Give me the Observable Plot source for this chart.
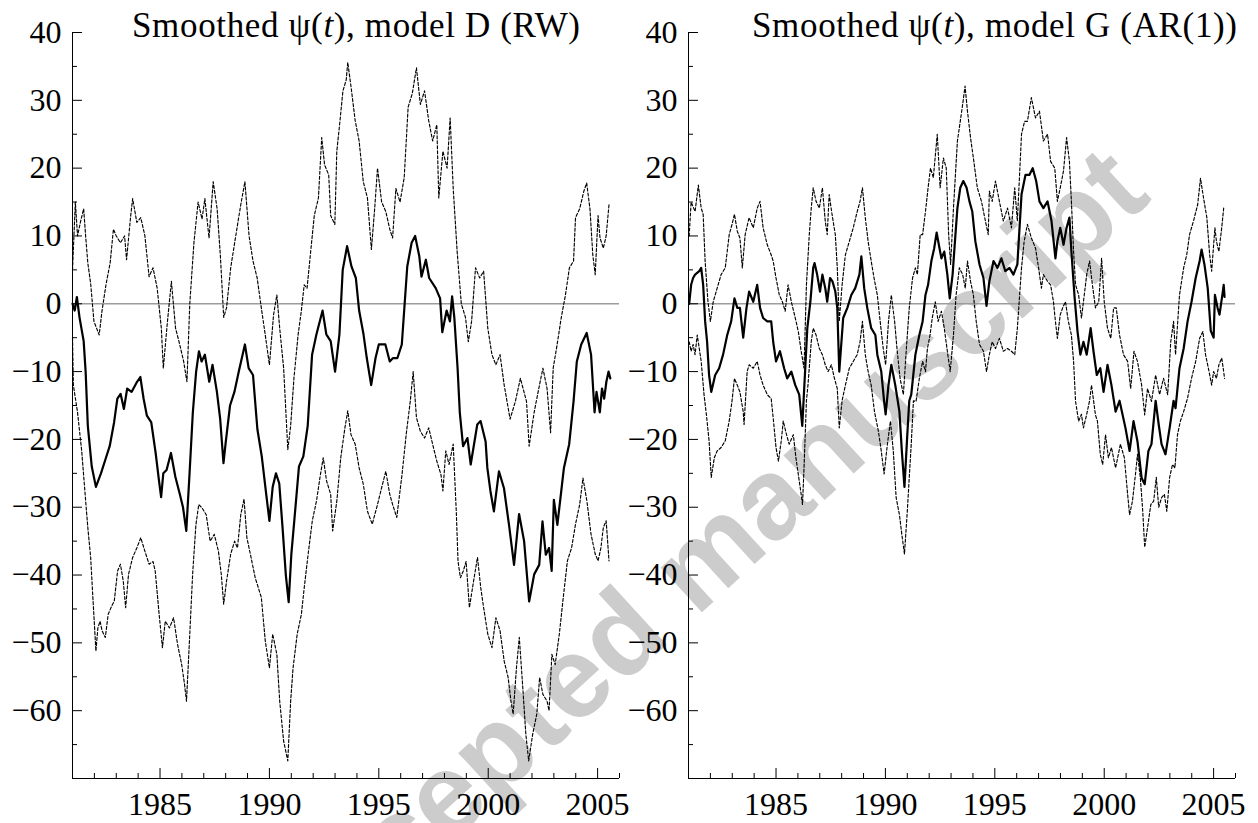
<!DOCTYPE html>
<html><head><meta charset="utf-8">
<script src="https://cdn.jsdelivr.net/npm/d3@7"></script>
<script src="https://cdn.jsdelivr.net/npm/@observablehq/plot@0.6"></script>
<style>
html,body{margin:0;padding:0;background:#fff;}
#wrap{position:relative;width:1258px;height:823px;overflow:hidden;background:#fff;}
#wrap > svg{position:absolute;top:0;}
#wrap svg text, #wrap svg tspan{font-family:"Liberation Serif","Times New Roman",Times,serif !important;}
#wrap svg text.wm{font-family:"Liberation Sans",Arial,Helvetica,sans-serif !important;}
</style></head><body>
<div id="wrap"></div>
<script>
// ---- tick values ----
const majorX = [1985, 1990, 1995, 2000, 2005];
const minorX = [1982,1983,1984,1986,1987,1988,1989,1991,1992,1993,1994,1996,1997,1998,1999,2001,2002,2003,2004,2006];
const majorY = [-60,-50,-40,-30,-20,-10,0,10,20,30,40];
const minorY = [-65,-55,-45,-35,-25,-15,-5,5,15,25,35];

const titleD = ["Smoothed \u03c8(", "t", "), model D (RW)"];
const titleG = ["Smoothed \u03c8(", "t", "), model G (AR(1))"];
const watermark = "Accepted manuscript";

// ---- model D (RW): smoothed mean, upper and lower bands [year, value] ----
const D_mean = [[1981.0,0],[1981.1,-1],[1981.2,1],[1981.32,-2],[1981.51,-5.5],[1981.6,-10],[1981.7,-18],[1981.88,-24],[1982.07,-27],[1982.3,-25],[1982.5,-23],[1982.7,-21],[1982.9,-17.5],[1983.05,-14],[1983.2,-13.3],[1983.35,-15.5],[1983.5,-12.5],[1983.7,-13],[1983.95,-11.5],[1984.1,-10.8],[1984.25,-14],[1984.4,-16.5],[1984.6,-17.5],[1984.8,-22],[1984.95,-26],[1985.05,-28.5],[1985.15,-25],[1985.3,-24.5],[1985.5,-22],[1985.7,-25.5],[1985.9,-28],[1986.05,-30],[1986.2,-33.5],[1986.35,-25],[1986.5,-16],[1986.65,-10],[1986.78,-7],[1986.9,-8.5],[1987.05,-7.5],[1987.25,-11.5],[1987.4,-9],[1987.6,-13],[1987.75,-17],[1987.9,-23.5],[1988.0,-20.5],[1988.2,-15],[1988.4,-13],[1988.6,-10],[1988.88,-6],[1989.05,-9.5],[1989.25,-10.5],[1989.45,-18.5],[1989.65,-22.5],[1989.85,-28],[1990.0,-32],[1990.15,-27],[1990.3,-25],[1990.45,-26.5],[1990.6,-33],[1990.75,-40],[1990.88,-44],[1991.0,-37],[1991.15,-31.5],[1991.35,-24],[1991.55,-22.5],[1991.75,-18],[1991.95,-7.5],[1992.15,-4.5],[1992.43,-1],[1992.6,-4.5],[1992.8,-5.5],[1993.0,-10],[1993.2,-4.5],[1993.35,5],[1993.55,8.5],[1993.75,5.5],[1993.95,3.8],[1994.1,-1],[1994.3,-4.5],[1994.45,-8],[1994.65,-12],[1994.85,-8],[1995.0,-6],[1995.3,-6],[1995.5,-8.5],[1995.65,-8],[1995.85,-8],[1996.05,-6],[1996.3,5.5],[1996.5,9],[1996.66,10],[1996.85,7],[1996.95,4],[1997.15,6.5],[1997.3,3.8],[1997.6,2.3],[1997.8,0.8],[1997.9,-4.2],[1998.1,-1],[1998.25,-2.6],[1998.35,1.1],[1998.45,-2],[1998.6,-9.5],[1998.7,-16],[1998.85,-21],[1999.05,-19.8],[1999.2,-23.7],[1999.5,-17.8],[1999.65,-17.3],[1999.88,-20.3],[1999.96,-24.2],[2000.1,-27.6],[2000.26,-30.6],[2000.49,-24.7],[2000.72,-27.2],[2000.95,-32.6],[2001.18,-38.5],[2001.41,-31],[2001.64,-35],[2001.87,-43.9],[2002.1,-39.9],[2002.33,-38.5],[2002.48,-32.1],[2002.63,-37],[2002.78,-36],[2002.9,-39.4],[2003.0,-28.9],[2003.16,-32.6],[2003.46,-24.2],[2003.7,-20.7],[2003.9,-14.4],[2004.05,-8.5],[2004.25,-6],[2004.5,-4.3],[2004.7,-7.5],[2004.86,-16],[2004.95,-13],[2005.1,-16],[2005.2,-12.5],[2005.3,-14],[2005.4,-11.5],[2005.5,-10],[2005.58,-11]];

const D_up = [[1981.0,5],[1981.13,15],[1981.23,10],[1981.36,12],[1981.51,14],[1981.6,10],[1981.7,6],[1981.83,3],[1981.98,-2.6],[1982.22,-4.6],[1982.35,-1],[1982.54,3],[1982.72,6],[1982.87,11],[1983.0,10],[1983.19,9],[1983.38,10],[1983.47,6.5],[1983.66,13],[1983.75,15.5],[1983.94,12],[1984.12,12.7],[1984.31,10],[1984.5,4],[1984.68,5.3],[1984.87,2.3],[1985.06,-3.6],[1985.15,-9.5],[1985.34,-2.6],[1985.52,3.3],[1985.71,-3.6],[1985.9,-6],[1986.08,-8.5],[1986.23,-11.5],[1986.36,0],[1986.55,9],[1986.74,15],[1986.92,12.5],[1987.05,15.5],[1987.24,9.7],[1987.43,18],[1987.61,14],[1987.76,7],[1987.91,-2],[1988.04,-0.6],[1988.23,5.3],[1988.51,11],[1988.69,14.6],[1988.88,18],[1989.07,10],[1989.25,6.3],[1989.44,3.8],[1989.63,-0.6],[1989.81,-4.6],[1990.0,-9],[1990.19,-1.6],[1990.34,1.3],[1990.47,-3.6],[1990.65,-9.5],[1990.84,-21.5],[1990.97,-18],[1991.12,-11],[1991.31,-4.6],[1991.46,-1],[1991.59,2.8],[1991.72,2.3],[1991.87,7.2],[1992.05,13],[1992.24,15.6],[1992.39,24.5],[1992.52,20.5],[1992.71,19],[1992.8,13],[1992.99,11.7],[1993.08,22.5],[1993.21,26.5],[1993.36,31.4],[1993.51,33],[1993.58,35.6],[1993.73,32],[1993.92,27],[1994.1,24],[1994.29,18],[1994.48,15.6],[1994.66,8],[1994.81,14],[1994.94,20],[1995.13,15],[1995.32,13.6],[1995.5,11],[1995.63,9.7],[1995.78,17],[1995.97,15],[1996.16,18.6],[1996.34,29],[1996.53,31],[1996.72,34.8],[1996.9,29.4],[1997.09,31.4],[1997.28,27],[1997.46,24],[1997.65,26.4],[1997.74,15.6],[1997.93,22.5],[1998.12,20],[1998.26,27.4],[1998.4,17],[1998.58,7.7],[1998.77,0],[1998.96,-2],[1999.09,-5.6],[1999.24,-2.6],[1999.42,5.3],[1999.61,3.8],[1999.79,4.8],[1999.98,-3.6],[2000.17,-7.5],[2000.35,-9],[2000.54,-7.5],[2000.73,-12],[2001.0,-17],[2001.24,-14.4],[2001.47,-11],[2001.75,-14.4],[2001.87,-21],[2002.1,-16],[2002.31,-12.5],[2002.5,-9.5],[2002.69,-12.5],[2002.85,-19],[2002.97,-9.5],[2003.15,-6],[2003.34,-2],[2003.53,1.3],[2003.71,5.3],[2003.9,6.3],[2003.99,12.7],[2004.18,14],[2004.37,16.6],[2004.5,17.8],[2004.65,14],[2004.78,7.2],[2004.89,4.3],[2005.02,13],[2005.11,9.7],[2005.26,8.2],[2005.39,10],[2005.52,14.6]];

const D_lo = [[1981.0,-5],[1981.04,-12],[1981.23,-16],[1981.42,-21.7],[1981.6,-29],[1981.7,-33],[1981.83,-37.4],[1981.94,-43.8],[1982.07,-51.2],[1982.16,-47.8],[1982.26,-46.8],[1982.35,-48.2],[1982.5,-49.2],[1982.63,-45.8],[1982.76,-44.8],[1982.91,-43.8],[1983.06,-39.4],[1983.19,-38.4],[1983.32,-40.9],[1983.43,-44.8],[1983.56,-39.9],[1983.75,-37.4],[1983.94,-36],[1984.12,-34.5],[1984.31,-36.5],[1984.5,-38.4],[1984.68,-38],[1984.78,-39.4],[1984.96,-45.8],[1985.11,-50.7],[1985.24,-46.8],[1985.43,-47.8],[1985.62,-46.3],[1985.8,-50.2],[1985.99,-53.2],[1986.12,-56.1],[1986.21,-58.6],[1986.36,-48.7],[1986.49,-39.9],[1986.64,-32.6],[1986.77,-29.6],[1986.92,-30.1],[1987.11,-31.1],[1987.29,-35],[1987.48,-34],[1987.67,-36.5],[1987.8,-39.9],[1987.91,-44.3],[1988.04,-40.9],[1988.23,-36.9],[1988.41,-35],[1988.54,-36],[1988.69,-31.1],[1988.84,-28.8],[1988.97,-34.5],[1989.16,-37.4],[1989.35,-40.4],[1989.63,-43.3],[1989.81,-49.7],[1990.0,-53.7],[1990.15,-48.7],[1990.34,-51.7],[1990.47,-58.6],[1990.65,-64.5],[1990.84,-67.4],[1990.97,-58.6],[1991.08,-53.7],[1991.27,-48.7],[1991.46,-45.8],[1991.59,-41.9],[1991.77,-36.9],[1991.96,-32],[1992.15,-29.1],[1992.33,-25.2],[1992.46,-22.7],[1992.61,-26.1],[1992.8,-28.1],[1992.89,-33.5],[1993.08,-29.1],[1993.26,-22.7],[1993.45,-18.3],[1993.58,-15.8],[1993.73,-19.3],[1993.92,-20.7],[1994.1,-24.2],[1994.29,-26.6],[1994.48,-30.6],[1994.7,-32.5],[1994.94,-29.6],[1995.13,-27.1],[1995.32,-24.7],[1995.5,-28.1],[1995.63,-29.6],[1995.82,-31.5],[1996.06,-25.2],[1996.25,-19.3],[1996.44,-14.3],[1996.57,-10],[1996.72,-16.8],[1996.9,-18.8],[1997.09,-19.8],[1997.28,-18.3],[1997.46,-20.7],[1997.65,-23.2],[1997.84,-25.2],[1997.93,-27.6],[1998.06,-21.7],[1998.21,-23.7],[1998.4,-20.7],[1998.54,-30.6],[1998.62,-38],[1998.73,-40.4],[1998.86,-39.4],[1998.99,-38],[1999.14,-44.8],[1999.33,-40.9],[1999.51,-37.4],[1999.66,-41.9],[1999.79,-44.8],[1999.98,-48.7],[2000.17,-50.7],[2000.35,-46.3],[2000.54,-48.2],[2000.73,-52.7],[2000.91,-55.1],[2001.04,-58.6],[2001.14,-60.5],[2001.29,-53.7],[2001.42,-49.2],[2001.57,-56.1],[2001.72,-63.5],[2001.85,-67.4],[2002.03,-63.5],[2002.22,-60.5],[2002.35,-55.1],[2002.5,-57.6],[2002.69,-58.6],[2002.78,-60],[2002.91,-51.7],[2003.06,-53.2],[2003.25,-48.7],[2003.43,-43.3],[2003.62,-37.9],[2003.81,-36],[2003.99,-32.5],[2004.18,-29.6],[2004.33,-25.7],[2004.51,-29.1],[2004.7,-34],[2004.89,-36.9],[2005.02,-37.9],[2005.15,-36],[2005.26,-33],[2005.39,-32],[2005.52,-37.9]];

// ---- model G (AR(1)) ----
const G_mean = [[1981.03,0],[1981.12,2.8],[1981.21,3.8],[1981.3,4.3],[1981.49,4.8],[1981.58,5.3],[1981.67,2.8],[1981.76,-2.6],[1981.85,-5.6],[1981.94,-10.5],[1982.04,-13],[1982.22,-10.5],[1982.4,-9.5],[1982.58,-7.5],[1982.77,-4.6],[1982.95,-2.6],[1983.1,0.8],[1983.23,-0.6],[1983.35,-0.6],[1983.5,-5],[1983.65,-0.6],[1983.77,1.8],[1983.96,0.3],[1984.14,2.8],[1984.27,-0.6],[1984.41,-2.1],[1984.6,-2.6],[1984.78,-2.6],[1984.87,-5.6],[1985.0,-8.5],[1985.18,-7],[1985.37,-9.5],[1985.51,-11],[1985.7,-10],[1985.88,-12],[1986.06,-13.4],[1986.2,-18],[1986.43,-3.6],[1986.57,0.3],[1986.7,5.3],[1986.76,6],[1986.88,4.3],[1987.01,1.8],[1987.12,4.3],[1987.25,2.3],[1987.34,0.3],[1987.47,3.8],[1987.58,3.3],[1987.71,1.8],[1987.8,-0.6],[1987.89,-10],[1988.07,-2.1],[1988.26,-0.6],[1988.44,1.3],[1988.62,2.3],[1988.81,4.3],[1988.9,7],[1989.03,2.3],[1989.17,-0.6],[1989.35,-3.6],[1989.54,-4.6],[1989.63,-7.5],[1989.81,-10],[1989.94,-14.4],[1990.01,-16.3],[1990.14,-12],[1990.27,-9],[1990.45,-12],[1990.64,-15.9],[1990.75,-21.7],[1990.87,-27],[1991.0,-19.3],[1991.09,-14.3],[1991.18,-13.4],[1991.37,-7.5],[1991.55,-4.6],[1991.7,-2.6],[1991.83,1.3],[1991.95,2.8],[1992.1,6.3],[1992.23,8.2],[1992.34,10.5],[1992.47,8.2],[1992.56,6.7],[1992.69,7.7],[1992.83,4.3],[1992.94,0.8],[1993.07,4.3],[1993.2,10.2],[1993.29,14.1],[1993.42,17.1],[1993.56,18.1],[1993.71,17.1],[1993.84,15.1],[1993.97,13.6],[1994.11,9.2],[1994.3,5.8],[1994.48,3.8],[1994.62,-0.3],[1994.75,3.3],[1994.94,6.3],[1995.12,5.3],[1995.3,6.7],[1995.48,4.8],[1995.67,5.3],[1995.85,4.3],[1996.03,5.8],[1996.22,16.1],[1996.4,19],[1996.58,19],[1996.73,20],[1996.89,18.1],[1997.04,15.1],[1997.22,14.1],[1997.41,15.1],[1997.59,12.2],[1997.77,6.7],[1997.86,9.2],[1997.99,11.2],[1998.14,8.7],[1998.28,11.2],[1998.41,12.7],[1998.5,7.7],[1998.65,0.8],[1998.78,-4.1],[1998.91,-7.5],[1999.05,-5.6],[1999.2,-7.5],[1999.38,-3.6],[1999.51,-7],[1999.66,-10.5],[1999.82,-9.5],[1999.97,-13],[2000.15,-9],[2000.33,-12],[2000.52,-15.9],[2000.7,-14.3],[2000.97,-18.3],[2001.16,-21.7],[2001.34,-17.3],[2001.52,-20.3],[2001.71,-25.7],[2001.85,-26.6],[2002.02,-21.7],[2002.16,-20.7],[2002.35,-14.3],[2002.49,-17.8],[2002.62,-20.7],[2002.8,-22.2],[2002.99,-18.3],[2003.17,-14.3],[2003.26,-15.4],[2003.44,-9.5],[2003.63,-6.6],[2003.81,-2.6],[2003.99,0.3],[2004.18,3.8],[2004.36,6.3],[2004.45,8],[2004.58,5.8],[2004.73,2.3],[2004.87,-4],[2005.0,-5],[2005.06,1.3],[2005.18,-0.6],[2005.27,-1.6],[2005.42,1.8],[2005.46,2.8],[2005.5,1]];

const G_up = [[1981.03,10],[1981.12,15],[1981.3,13.6],[1981.45,17.5],[1981.58,14.1],[1981.67,13.2],[1981.76,6.3],[1981.89,0.3],[1982.0,-2.6],[1982.13,0.3],[1982.31,2.3],[1982.49,4.3],[1982.68,5.3],[1982.86,10.2],[1982.99,11.7],[1983.1,13.2],[1983.23,10.7],[1983.35,9.7],[1983.46,5.3],[1983.59,10.2],[1983.77,12.7],[1983.96,11.2],[1984.14,14.1],[1984.27,15.1],[1984.41,11.2],[1984.6,8.7],[1984.78,7.2],[1984.87,6.3],[1985.0,3.8],[1985.15,1.3],[1985.29,0.3],[1985.42,-1.1],[1985.55,2.8],[1985.7,0.3],[1985.88,-2.1],[1986.02,-4.1],[1986.15,-7],[1986.28,-9.5],[1986.39,2.8],[1986.52,10.2],[1986.61,14.1],[1986.7,17.1],[1986.83,15.1],[1986.98,14.1],[1987.12,17.1],[1987.25,12.2],[1987.34,10.2],[1987.43,16.1],[1987.56,13.2],[1987.71,10.2],[1987.8,5.3],[1987.89,-2.6],[1988.02,2.8],[1988.17,7.2],[1988.35,9.2],[1988.53,11.2],[1988.71,13.6],[1988.84,15.1],[1988.95,17.1],[1989.08,12.7],[1989.21,9.2],[1989.35,6.3],[1989.48,3.8],[1989.63,1.3],[1989.76,-2.6],[1989.9,-6.6],[1990.01,-9],[1990.14,-2.6],[1990.27,1.3],[1990.42,-2.6],[1990.54,-7],[1990.67,-11],[1990.82,-13.4],[1990.97,-6],[1991.09,-0.6],[1991.24,3.8],[1991.37,5.3],[1991.46,4.3],[1991.59,10.2],[1991.7,10.2],[1991.83,13.6],[1991.95,17.1],[1992.06,20],[1992.19,18.6],[1992.37,25],[1992.5,17.1],[1992.65,21.5],[1992.78,20],[1992.89,10.2],[1992.98,5.8],[1993.11,14.1],[1993.29,24],[1993.42,26.9],[1993.53,29.4],[1993.64,32.1],[1993.75,28.4],[1993.89,24.5],[1994.02,21.5],[1994.2,17.1],[1994.39,15.1],[1994.57,12.2],[1994.7,10.2],[1994.75,16.6],[1994.88,15.1],[1995.03,18.1],[1995.21,15.1],[1995.39,12.2],[1995.58,14.1],[1995.76,11.2],[1995.91,17.1],[1996.03,12.2],[1996.22,25],[1996.36,26.9],[1996.49,26.9],[1996.67,30.4],[1996.86,27.4],[1997.04,28.4],[1997.22,24],[1997.41,25],[1997.55,21],[1997.74,20],[1997.86,15.1],[1997.99,17.1],[1998.14,19.6],[1998.28,24.5],[1998.41,21],[1998.5,15.1],[1998.6,7.7],[1998.69,2.8],[1998.83,1.3],[1998.96,-2.1],[1999.05,0.3],[1999.2,4.3],[1999.33,6.3],[1999.46,2.8],[1999.6,-0.6],[1999.75,0.3],[1999.88,6.7],[2000.0,0.3],[2000.15,-3.6],[2000.3,-5.1],[2000.43,-0.6],[2000.55,-0.6],[2000.7,-4.6],[2000.88,-7.5],[2001.07,-8.5],[2001.21,-12.5],[2001.36,-7],[2001.52,-8.5],[2001.71,-12],[2001.85,-16.4],[2001.98,-12.5],[2002.16,-14.4],[2002.35,-10.5],[2002.53,-13.4],[2002.71,-11],[2002.9,-13.4],[2003.04,-5.6],[2003.17,-2.6],[2003.26,-7.5],[2003.44,1.3],[2003.63,5.3],[2003.77,7.2],[2003.9,10.2],[2004.08,12.2],[2004.27,14.6],[2004.4,18.5],[2004.54,15.6],[2004.69,12.7],[2004.82,7.2],[2004.91,4.8],[2005.06,11.2],[2005.13,9.2],[2005.24,7.7],[2005.37,11.2],[2005.46,14.1]];

const G_lo = [[1981.03,-5.6],[1981.12,-7],[1981.21,-6],[1981.3,-7.5],[1981.4,-4.6],[1981.58,-8.5],[1981.71,-13.4],[1981.82,-16.4],[1981.94,-20.2],[1982.04,-25.6],[1982.18,-22.7],[1982.31,-21.7],[1982.49,-21.2],[1982.68,-20.2],[1982.86,-17.3],[1982.99,-14.3],[1983.1,-11],[1983.23,-12],[1983.35,-13],[1983.5,-15.9],[1983.54,-17.8],[1983.68,-10],[1983.77,-9],[1983.96,-9.5],[1984.14,-8.5],[1984.27,-10.5],[1984.41,-12],[1984.6,-13.4],[1984.78,-14],[1984.87,-16.8],[1985.0,-21.2],[1985.11,-23.2],[1985.24,-20.2],[1985.33,-17.3],[1985.48,-19.3],[1985.6,-20.7],[1985.79,-19.3],[1985.91,-22.7],[1986.06,-26.1],[1986.15,-28.1],[1986.21,-29.6],[1986.28,-24.2],[1986.39,-14.3],[1986.46,-12],[1986.61,-5.6],[1986.7,-3.6],[1986.83,-4.6],[1986.98,-6.6],[1987.12,-7.5],[1987.25,-9],[1987.38,-10],[1987.53,-9],[1987.67,-11],[1987.8,-12.5],[1987.89,-18.3],[1988.02,-14.3],[1988.17,-12],[1988.35,-9.5],[1988.53,-8.5],[1988.71,-7.5],[1988.84,-5.6],[1988.95,-2.6],[1989.08,-7.5],[1989.21,-10],[1989.35,-12],[1989.5,-15.9],[1989.68,-18.8],[1989.81,-21.7],[1989.94,-25.1],[1990.09,-20.7],[1990.23,-17.3],[1990.36,-21.7],[1990.49,-28.6],[1990.64,-31.1],[1990.75,-34],[1990.87,-36.9],[1991.0,-30.6],[1991.09,-25.6],[1991.18,-20.7],[1991.28,-14.3],[1991.4,-14.4],[1991.55,-11],[1991.7,-8.5],[1991.83,-10],[1991.92,-6.6],[1992.04,-4.6],[1992.14,-2.1],[1992.28,0.3],[1992.41,-2.6],[1992.56,-1.1],[1992.69,-3.6],[1992.83,-7],[1992.96,-10],[1993.11,-4.6],[1993.23,1.3],[1993.38,5.3],[1993.53,4.3],[1993.65,2.3],[1993.75,6.3],[1993.89,3.3],[1994.02,1.3],[1994.15,-2.6],[1994.3,-6],[1994.48,-7],[1994.62,-10],[1994.75,-7.5],[1994.88,-5.6],[1995.03,-6.6],[1995.21,-5.1],[1995.39,-7],[1995.58,-6.6],[1995.76,-7],[1995.91,-7.5],[1996.03,-3.6],[1996.22,5.3],[1996.34,9.2],[1996.49,11.7],[1996.67,9.7],[1996.86,8.2],[1997.0,5.3],[1997.13,2.3],[1997.22,4.3],[1997.41,3.3],[1997.55,2.8],[1997.68,0.3],[1997.77,-2.6],[1997.86,-5.1],[1997.99,-1.6],[1998.1,-0.6],[1998.23,0.3],[1998.36,-2.6],[1998.5,-4.6],[1998.6,-8.5],[1998.69,-14.4],[1998.83,-17.3],[1998.96,-16.3],[1999.05,-18.3],[1999.2,-16.3],[1999.33,-14.3],[1999.42,-12],[1999.6,-16.4],[1999.69,-17.3],[1999.82,-22.2],[1999.93,-23.7],[2000.06,-19.3],[2000.19,-22.7],[2000.33,-21.2],[2000.52,-24.2],[2000.74,-20.7],[2000.92,-22.7],[2001.07,-28.1],[2001.16,-31.1],[2001.29,-29.1],[2001.43,-25.1],[2001.52,-22.2],[2001.65,-25.6],[2001.76,-30.6],[2001.85,-35.9],[2001.98,-33],[2002.13,-29.6],[2002.26,-29.1],[2002.38,-25.6],[2002.49,-30],[2002.62,-28.6],[2002.75,-28.1],[2002.86,-30.6],[2002.99,-25.6],[2003.12,-23.7],[2003.23,-24.2],[2003.35,-19.3],[2003.48,-17.3],[2003.63,-15.9],[2003.81,-13.9],[2003.99,-11],[2004.18,-8.5],[2004.36,-5.1],[2004.51,-4.1],[2004.63,-7.5],[2004.76,-9.5],[2004.91,-12],[2005.0,-10],[2005.13,-11],[2005.24,-9],[2005.37,-8],[2005.46,-10],[2005.5,-11]];

// ---- layout ----
const W = 629, H = 823, mL = 72, mR = 10, mT = 32, mB = 45;
const iW = W - mL - mR, iH = H - mT - mB;
const serif = "Liberation Serif";
const fmtY = d => d < 0 ? "\u2212" + Math.abs(d) : String(d);

const wrap = document.getElementById("wrap");

// watermark (behind the panels)
const wm = d3.select(wrap).append("svg").attr("width", 1258).attr("height", 823).style("left", "0px");
wm.append("text")
  .attr("class", "wm")
  .attr("x", 722).attr("y", 594)
  .attr("transform", "rotate(-42.5 722 594)")
  .attr("text-anchor", "middle")
  .attr("font-weight", "bold")
  .attr("font-size", 115)
  .attr("fill", "#cccccc")
  .text(watermark);

function panel(mean, up, lo, title, titleX, titleLen, left) {
  const svg = Plot.plot({
    width: W, height: H,
    marginLeft: mL, marginRight: mR, marginTop: mT, marginBottom: mB,
    style: {fontFamily: serif, fontSize: "32px", background: "transparent", color: "black", overflow: "visible"},
    x: {domain: [1981, 2006], label: null},
    y: {domain: [-70, 40], label: null},
    marks: [
      Plot.ruleY([0], {stroke: "#9c9c9c", strokeWidth: 1.4}),
      Plot.line(up, {x: d => d[0], y: d => d[1], stroke: "black", strokeWidth: 1.15, strokeDasharray: "3,2"}),
      Plot.line(lo, {x: d => d[0], y: d => d[1], stroke: "black", strokeWidth: 1.15, strokeDasharray: "3,2"}),
      Plot.line(mean, {x: d => d[0], y: d => d[1], stroke: "black", strokeWidth: 2.2}),
      Plot.ruleX(minorX, {x: d => d, insetTop: iH - 5, stroke: "black"}),
      Plot.ruleX(majorX, {x: d => d, insetTop: iH - 10, stroke: "black"}),
      Plot.ruleY(minorY, {y: d => d, insetRight: iW - 5, stroke: "black"}),
      Plot.ruleY(majorY, {y: d => d, insetRight: iW - 10, stroke: "black"}),
      Plot.ruleX([1981], {stroke: "black"}),
      Plot.ruleY([-70], {stroke: "black"}),
      Plot.axisX(majorX, {tickSize: 0, tickPadding: 14, tickFormat: d => String(d), fontSize: 32}),
      Plot.axisY(majorY, {tickSize: 0, tickPadding: 11, tickFormat: fmtY, fontSize: 32})
    ]
  });
  const t = d3.select(svg).append("text")
    .attr("x", titleX).attr("y", 37)
    .attr("text-anchor", "start")
    .attr("textLength", titleLen).attr("lengthAdjust", "spacing")
    .attr("font-size", 35).attr("fill", "black");
  t.append("tspan").text(title[0]);
  t.append("tspan").attr("font-style", "italic").text(title[1]);
  t.append("tspan").text(title[2]);
  svg.style.position = "absolute";
  svg.style.left = left + "px";
  svg.style.top = "0px";
  wrap.appendChild(svg);
}

panel(D_mean, D_up, D_lo, titleD, 132, 448, 0);
panel(G_mean, G_up, G_lo, titleG, 136, 485, 616);
</script>
</body></html>
